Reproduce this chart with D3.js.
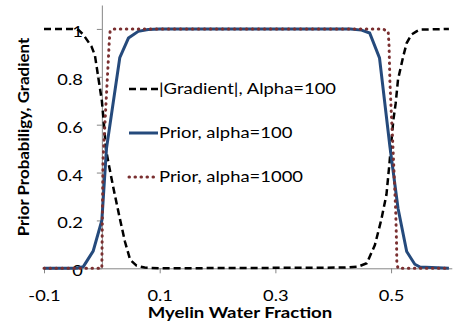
<!DOCTYPE html>
<html>
<head>
<meta charset="utf-8">
<script src="https://cdn.jsdelivr.net/npm/d3@7"></script>
<style>
  body { margin: 0; background: #fff; }
  text { font-family: Lato, "Open Sans", sans-serif; fill: #000; }
</style>
</head>
<body>
<svg id="plot"></svg>
<script>
// values
var gradX = [-0.1, -0.05, -0.04, -0.032, -0.018, -0.012, -0.006, 0, 0.003, 0.007, 0.011, 0.02, 0.031, 0.04, 0.049, 0.06, 0.074, 0.1,
             0.42, 0.443, 0.458, 0.472, 0.483, 0.492, 0.497, 0.5, 0.504, 0.508, 0.512, 0.521, 0.527, 0.535, 0.544, 0.55, 0.6];
var gradY = [1, 1, 0.995, 0.976, 0.927, 0.89, 0.795, 0.70, 0.62, 0.5, 0.446, 0.335, 0.209, 0.111, 0.035, 0.011, 0.003, 0,
             0.003, 0.007, 0.021, 0.097, 0.202, 0.307, 0.432, 0.516, 0.62, 0.69, 0.788, 0.885, 0.941, 0.976, 0.99, 0.997, 1];

var prior100X = [-0.1, -0.043, -0.032, -0.015, 0, 0.008, 0.031, 0.046, 0.063, 0.08, 0.1,
                 0.43, 0.449, 0.463, 0.48, 0.498, 0.512, 0.527, 0.541, 0.55, 0.6];
var prior100Y = [0, 0, 0.007, 0.072, 0.2, 0.5, 0.88, 0.962, 0.99, 0.998, 1,
                 1, 0.995, 0.983, 0.879, 0.509, 0.251, 0.07, 0.017, 0.005, 0];

var prior1000X = [-0.1, 0, 0.002, 0.007, 0.011, 0.013, 0.0143, 0.02,
                  0.485, 0.495, 0.4965, 0.498, 0.5, 0.503, 0.5055, 0.508, 0.5095, 0.510, 0.512, 0.6];
var prior1000Y = [0, 0, 0.45, 0.68, 0.86, 0.955, 0.99, 1,
                  1, 0.99, 0.93, 0.78, 0.67, 0.52, 0.38, 0.24, 0.1, 0.02, 0, 0];

var seriesNames = ['|Gradient|, Alpha=100', 'Prior, alpha=100', 'Prior, alpha=1000'];
var xTicks = [-0.1, 0.1, 0.3, 0.5];
var yTicks = [0, 0.2, 0.4, 0.6, 0.8, 1];

var width = 459, height = 325;

var svg = d3.select('#plot')
  .attr('width', width)
  .attr('height', height);

var x = d3.scaleLinear().domain([-0.1, 0.605]).range([44, 451.8]);
var y = d3.scaleLinear().domain([0, 1.1]).range([268.3, 5]);

// the original font is wide, so stretch text sideways a bit
var tickStretch = 1.22;

// axes (y axis crosses at x = 0)
var xAxis = svg.append('g')
  .attr('transform', 'translate(0,' + y(0) + ')')
  .call(d3.axisBottom(x).tickValues(xTicks).tickSize(5).tickSizeOuter(0));
xAxis.select('.domain').attr('stroke', '#868686');
xAxis.selectAll('.tick line').attr('stroke', '#868686');
xAxis.selectAll('.tick text')
  .attr('y', 0)
  .attr('dy', '0.35em')
  .attr('transform', 'translate(0,27) scale(' + tickStretch + ',1)')
  .style('font-size', '15px')
  .text(function(d) { return d.toFixed(1); });

var yAxis = svg.append('g')
  .attr('transform', 'translate(' + x(0) + ',0)')
  .call(d3.axisLeft(y).tickValues(yTicks).tickSize(5).tickSizeOuter(0));
yAxis.select('.domain').attr('stroke', '#868686');
yAxis.selectAll('.tick line').attr('stroke', '#868686');
yAxis.selectAll('.tick text')
  .attr('x', 0)
  .attr('dy', '0.5em')
  .attr('transform', 'translate(-19,0) scale(' + tickStretch + ',1)')
  .style('font-size', '15px')
  .text(function(d) { return d === 0 || d === 1 ? d : d.toFixed(1); });

// lines
var line = d3.line()
  .x(function(d) { return x(d[0]); })
  .y(function(d) { return y(d[1]); });

svg.append('path')
  .datum(d3.zip(gradX, gradY))
  .attr('fill', 'none')
  .attr('stroke', '#000')
  .attr('stroke-width', 2.5)
  .attr('stroke-dasharray', '7,4')
  .attr('d', line);

svg.append('path')
  .datum(d3.zip(prior100X, prior100Y))
  .attr('fill', 'none')
  .attr('stroke', '#254a7c')
  .attr('stroke-width', 3)
  .attr('d', line);

svg.append('path')
  .datum(d3.zip(prior1000X, prior1000Y))
  .attr('fill', 'none')
  .attr('stroke', '#7a2f30')
  .attr('stroke-width', 3)
  .attr('stroke-linecap', 'round')
  .attr('stroke-dasharray', '0.5,5.5')
  .attr('d', line);

// legend
var legendStyles = [
  {stroke: '#000', dash: '7,4', cap: 'butt'},
  {stroke: '#254a7c', dash: null, cap: 'butt'},
  {stroke: '#7a2f30', dash: '0.5,5.5', cap: 'round'}
];
var legend = svg.selectAll('.legend')
  .data(seriesNames)
  .enter().append('g')
  .attr('class', 'legend')
  .attr('transform', function(d, i) { return 'translate(129,' + (89 + i * 44) + ')'; });

legend.append('line')
  .attr('x1', 0).attr('x2', 29)
  .attr('stroke', function(d, i) { return legendStyles[i].stroke; })
  .attr('stroke-width', function(d, i) { return i === 0 ? 2.5 : 3; })
  .attr('stroke-dasharray', function(d, i) { return legendStyles[i].dash; })
  .attr('stroke-linecap', function(d, i) { return legendStyles[i].cap; });

legend.append('text')
  .attr('transform', 'translate(30,0) scale(1.19,1)')
  .attr('dy', '0.35em')
  .style('font-size', '15.5px')
  .text(function(d) { return d; });

// axis titles
svg.append('text')
  .attr('transform', 'translate(240,313) scale(1.24,1)')
  .attr('dy', '0.35em')
  .attr('text-anchor', 'middle')
  .style('font-size', '15px')
  .style('font-weight', 'bold')
  .text('Myelin Water Fraction');

svg.append('text')
  .attr('transform', 'translate(24,137) rotate(-90) scale(1.13,1)')
  .attr('dy', '0.35em')
  .attr('text-anchor', 'middle')
  .style('font-size', '15px')
  .style('font-weight', 'bold')
  .text('Prior Probabiligy, Gradient');
</script>
</body>
</html>
